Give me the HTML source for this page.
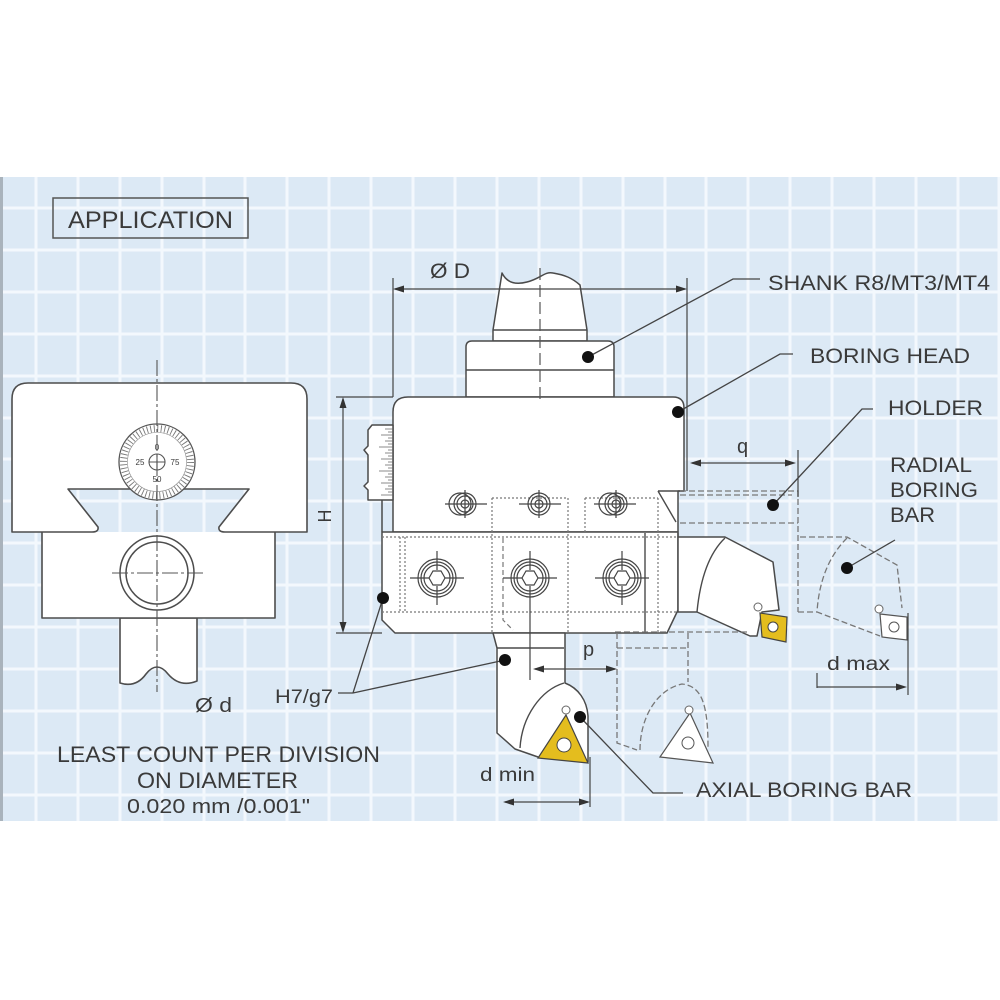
<!DOCTYPE html>
<html><head><meta charset="utf-8"><style>
html,body{margin:0;padding:0;background:#fff;}
svg{display:block;}
text{font-family:"Liberation Sans",Arial,sans-serif;fill:#3a3a3a;}
</style></head><body>
<svg width="1000" height="1000" viewBox="0 0 1000 1000" xmlns="http://www.w3.org/2000/svg">
<rect x="0" y="0" width="1000" height="1000" fill="#fff"/>
<rect x="0" y="177" width="1000" height="644" fill="#dce9f5"/>
<g stroke="#f3f8fd" stroke-width="3">
<line x1="36" y1="177" x2="36" y2="821"/><line x1="78" y1="177" x2="78" y2="821"/><line x1="120" y1="177" x2="120" y2="821"/><line x1="162" y1="177" x2="162" y2="821"/><line x1="204" y1="177" x2="204" y2="821"/><line x1="245" y1="177" x2="245" y2="821"/><line x1="287" y1="177" x2="287" y2="821"/><line x1="329" y1="177" x2="329" y2="821"/><line x1="371" y1="177" x2="371" y2="821"/><line x1="413" y1="177" x2="413" y2="821"/><line x1="455" y1="177" x2="455" y2="821"/><line x1="497" y1="177" x2="497" y2="821"/><line x1="539" y1="177" x2="539" y2="821"/><line x1="581" y1="177" x2="581" y2="821"/><line x1="623" y1="177" x2="623" y2="821"/><line x1="665" y1="177" x2="665" y2="821"/><line x1="706" y1="177" x2="706" y2="821"/><line x1="748" y1="177" x2="748" y2="821"/><line x1="790" y1="177" x2="790" y2="821"/><line x1="832" y1="177" x2="832" y2="821"/><line x1="874" y1="177" x2="874" y2="821"/><line x1="916" y1="177" x2="916" y2="821"/><line x1="958" y1="177" x2="958" y2="821"/><line x1="999" y1="177" x2="999" y2="821"/>
<line x1="0" y1="208" x2="1000" y2="208"/><line x1="0" y1="250" x2="1000" y2="250"/><line x1="0" y1="292" x2="1000" y2="292"/><line x1="0" y1="334" x2="1000" y2="334"/><line x1="0" y1="376" x2="1000" y2="376"/><line x1="0" y1="418" x2="1000" y2="418"/><line x1="0" y1="459" x2="1000" y2="459"/><line x1="0" y1="501" x2="1000" y2="501"/><line x1="0" y1="543" x2="1000" y2="543"/><line x1="0" y1="585" x2="1000" y2="585"/><line x1="0" y1="627" x2="1000" y2="627"/><line x1="0" y1="669" x2="1000" y2="669"/><line x1="0" y1="711" x2="1000" y2="711"/><line x1="0" y1="753" x2="1000" y2="753"/><line x1="0" y1="795" x2="1000" y2="795"/>
</g>
<rect x="0" y="177" width="3" height="644" fill="#a9b3bc"/>

<!-- APPLICATION box -->
<rect x="53" y="198" width="195" height="40" fill="none" stroke="#555" stroke-width="1.5"/>
<text x="68" y="228" font-size="24" textLength="165" lengthAdjust="spacingAndGlyphs">APPLICATION</text>

<!-- LEFT FIGURE -->
<g fill="#fff" stroke="#4d4d4d" stroke-width="1.6" stroke-linejoin="round">
 <path d="M120,618 V683 Q136,688 146,674 Q157,660 168,674 Q180,688 197,681 V618 Z"/>
 <path d="M42,532 V618 H275 V532 Z" stroke="none"/>
 <path d="M42,532 V618 H275 V532"/>
 <path d="M12,532 V399 Q12,383 28,383 H291 Q307,383 307,399 V532 H225 Q218,532 219,527 L249,489 H68 L98,527 Q99,532 92,532 Z"/>
</g>
<circle cx="157" cy="462" r="38" fill="#fff" stroke="#555" stroke-width="1.3"/>
<circle cx="157" cy="462" r="33.5" fill="none" stroke="#777" stroke-width="7" stroke-dasharray="0.9,2.61"/>
<circle cx="157" cy="462" r="29.5" fill="none" stroke="#888" stroke-width="0.6"/>
<circle cx="157" cy="462" r="8" fill="#fff" stroke="#555" stroke-width="1.1"/>
<path d="M149,462 H165 M157,454 V470" stroke="#555" stroke-width="1.1"/>
<g font-size="8" text-anchor="middle">
<text x="157" y="450">0</text><text x="140" y="465">25</text><text x="175" y="465">75</text><text x="157" y="482">50</text>
</g>
<circle cx="157" cy="573" r="37" fill="#fff" stroke="#4d4d4d" stroke-width="1.5"/>
<circle cx="157" cy="573" r="31" fill="none" stroke="#4d4d4d" stroke-width="1.5"/>
<g stroke="#555" stroke-width="1.1" fill="none" stroke-dasharray="16,3,3,3">
<line x1="157" y1="360" x2="157" y2="692"/>
<line x1="112" y1="573" x2="203" y2="573"/>
</g>
<text x="195" y="712" font-size="20" textLength="37" lengthAdjust="spacingAndGlyphs">Ø d</text>

<!-- MAIN FIGURE -->
<g fill="#fff" stroke="#4a4a4a" stroke-width="1.5" stroke-linejoin="round">
 <path d="M502,273 C507,283 516,285 527,282 C540,279 545,271 553,273 C565,275 572,278 580,285 L587,330 V341 H493 V330 Z"/>
 <line x1="493" y1="330" x2="587" y2="330"/>
 <path d="M466,397 V347 Q466,341 472,341 H608 Q614,341 614,347 V397 Z"/>
 <line x1="466" y1="370" x2="614" y2="370"/>
 <path d="M393,532 V412 Q393,397 408,397 H673 Q684,397 684,408 V491 H678 V532 Z"/>
 <path d="M393,425 H372 L368,430 V446 L364,450 L368,455 V482 L364,486 L368,490 V500 H393 Z"/>
 <path d="M382,500 V532"/>
 <path d="M382,532 H678 V610 L667,633 H395 L382,620 Z"/>
 <path d="M678,537 H725 L773,562 L779,610 L762,612 L757,636 L750,636 L697,612 H678 Z"/>
 <path d="M493,633 H565 V683 C578,688 587,700 588,716 V762 L538,757 L515,749 L497,733 V648 Z"/>
</g>
<g stroke="#4a4a4a" stroke-width="1.4" fill="none">
 <path d="M658,491 H684 M658,491 L676,522"/>
 <path d="M725,538 Q702,560 697,612"/>
 <path d="M564,683 C541,690 522,716 520,748"/>
 <path d="M497,648 H564"/>
 <path d="M645,533 V633"/>
 <path d="M678,533 V537"/>
</g>
<!-- vernier ticks -->
<g stroke="#666" stroke-width="0.8">
<path d="M393,429 h-8 M393,432 h-5 M393,435 h-12 M393,438 h-5 M393,441 h-8 M393,444 h-5 M393,447 h-14 M393,450 h-5 M393,453 h-8 M393,456 h-5 M393,459 h-12 M393,462 h-5 M393,465 h-8 M393,468 h-5 M393,471 h-14 M393,474 h-5 M393,477 h-8 M393,480 h-5 M393,483 h-12 M393,486 h-5 M393,489 h-8 M393,492 h-5 M393,495 h-12"/>
</g>
<!-- centerline -->
<line x1="540" y1="268" x2="540" y2="403" stroke="#555" stroke-width="1.2" stroke-dasharray="12,5"/>

<!-- inserts -->
<path d="M760,613 L787,617 L786,642 L762,637 Z" fill="#e4bd1e" stroke="#444" stroke-width="1.2"/>
<circle cx="773" cy="627" r="5" fill="#fff" stroke="#444" stroke-width="1"/>
<circle cx="758" cy="607" r="4" fill="#fff" stroke="#666" stroke-width="1"/>
<path d="M538,758 L588,763 L566,715 Z" fill="#e4bd1e" stroke="#444" stroke-width="1.2"/>
<circle cx="564" cy="745" r="7" fill="#fff" stroke="#444" stroke-width="1"/>
<circle cx="566" cy="710" r="4" fill="#fff" stroke="#666" stroke-width="1"/>

<!-- ghost dashed -->
<g stroke="#777" stroke-width="1.3" fill="none" stroke-dasharray="6,3">
 <path d="M680,491 H798 V612 M680,495 H792 M680,523 H798"/>
 <path d="M800,537 H847 L897,565 L902,608"/>
 <path d="M847,538 Q820,565 817,612 L880,636"/>
 <path d="M798,612 H817"/>
 <path d="M615,632 H750"/>
 <path d="M617,633 V743 L637,750"/>
 <path d="M617,648 H688 M688,633 V682"/>
 <path d="M640,750 C640,720 655,690 682,684 C700,686 708,700 708,747"/>
</g>
<path d="M880,614 L907,617 L907,640 L882,637 Z" fill="#fff" stroke="#555" stroke-width="1.2"/>
<circle cx="894" cy="627" r="5" fill="none" stroke="#555"/>
<circle cx="879" cy="609" r="4" fill="#fff" stroke="#666"/>
<path d="M660,757 L713,763 L690,713 Z" fill="#fff" stroke="#555" stroke-width="1.2"/>
<circle cx="688" cy="743" r="6" fill="none" stroke="#555"/>
<circle cx="689" cy="710" r="4" fill="#fff" stroke="#666"/>

<!-- dotted hidden lines -->
<g stroke="#777" stroke-width="1.2" fill="none" stroke-dasharray="2,2">
 <path d="M382,537 H678 M382,612 H678"/>
 <path d="M400,537 V612 M405,537 V612"/>
 <path d="M492,498 V633 M568,498 V633 M585,498 V533 M658,498 V633"/>
 <path d="M492,498 H568 M585,498 H658"/>
</g>
<path d="M503,538 V620 L513,630" stroke="#777" stroke-width="1.2" fill="none" stroke-dasharray="5,3"/>

<!-- screws upper -->
<g stroke="#444" stroke-width="1.2" fill="none">
 <path d="M445,504 H487 M465,490 V518"/>
 <circle cx="460" cy="504" r="11"/><circle cx="465" cy="504" r="11"/><circle cx="465" cy="504" r="8"/><circle cx="465" cy="504" r="4"/>
 <path d="M519,504 H561 M539,490 V518"/>
 <circle cx="539" cy="504" r="11"/><circle cx="539" cy="504" r="8"/><circle cx="539" cy="504" r="4"/>
 <path d="M594,504 H636 M616,490 V518"/>
 <circle cx="610" cy="504" r="11"/><circle cx="616" cy="504" r="11"/><circle cx="616" cy="504" r="8"/><circle cx="616" cy="504" r="4"/>
</g>
<!-- screws lower -->
<g stroke="#444" stroke-width="1.2" fill="none">
 <path d="M410,578 H429 M445,578 H464 M437,551 V570 M437,586 V605"/>
 <circle cx="437" cy="578" r="19"/><circle cx="437" cy="578" r="16"/><circle cx="437" cy="578" r="13"/>
 <polygon points="445,578 441,585 433,585 429,578 433,571 441,571"/>
 <path d="M503,578 H522 M538,578 H557 M530,551 V570 M530,586 V680"/>
 <circle cx="530" cy="578" r="19"/><circle cx="530" cy="578" r="16"/><circle cx="530" cy="578" r="13"/>
 <polygon points="538,578 534,585 526,585 522,578 526,571 534,571"/>
 <path d="M595,578 H614 M630,578 H649 M622,551 V570 M622,586 V605"/>
 <circle cx="622" cy="578" r="19"/><circle cx="622" cy="578" r="16"/><circle cx="622" cy="578" r="13"/>
 <polygon points="630,578 626,585 618,585 614,578 618,571 626,571"/>
</g>

<!-- dimensions -->
<g stroke="#444" stroke-width="1.2" fill="none">
 <path d="M343,399 V631 M336,397 H393 M336,633 H382"/>
 <path d="M395,289 H685 M393,278 V397 M687,278 V491"/>
 <path d="M692,463 H793 M798,450 V497"/>
 <path d="M535,669 H615"/>
 <path d="M505,802 H588 M590,757 V807"/>
 <path d="M817,673 V688 M817,687 H904 M908,613 V695"/>
</g>
<g fill="#333">
 <polygon points="343,397 339.5,408 346.5,408"/><polygon points="343,633 339.5,622 346.5,622"/>
 <polygon points="393,289 404,285.5 404,292.5"/><polygon points="687,289 676,285.5 676,292.5"/>
 <polygon points="690,463 701,459.5 701,466.5"/><polygon points="796,463 785,459.5 785,466.5"/>
 <polygon points="533,669 544,665.5 544,672.5"/><polygon points="617,669 606,665.5 606,672.5"/>
 <polygon points="503,802 514,798.5 514,805.5"/><polygon points="590,802 579,798.5 579,805.5"/>
 <polygon points="907,687 896,683.5 896,690.5"/>
</g>

<!-- leaders -->
<g stroke="#444" stroke-width="1.3" fill="none">
 <path d="M588,357 L733,279 H760"/>
 <path d="M678,412 L780,354 H793"/>
 <path d="M773,505 L862,409 H873"/>
 <path d="M847,568 L895,540"/>
 <path d="M383,598 L353,693 M505,660 L353,693 M338,693 H353"/>
 <path d="M580,717 L653,793 H683"/>
</g>
<g fill="#111">
 <circle cx="588" cy="357" r="6"/><circle cx="678" cy="412" r="6"/><circle cx="773" cy="505" r="6"/>
 <circle cx="847" cy="568" r="6"/><circle cx="383" cy="598" r="6"/><circle cx="505" cy="660" r="6"/>
 <circle cx="580" cy="717" r="6"/>
</g>

<!-- labels -->
<text x="430" y="278" font-size="21" textLength="40" lengthAdjust="spacingAndGlyphs">Ø D</text>
<text x="768" y="290" font-size="21" textLength="222" lengthAdjust="spacingAndGlyphs">SHANK R8/MT3/MT4</text>
<text x="810" y="363" font-size="21" textLength="160" lengthAdjust="spacingAndGlyphs">BORING HEAD</text>
<text x="888" y="415" font-size="21" textLength="95" lengthAdjust="spacingAndGlyphs">HOLDER</text>
<text x="737" y="453" font-size="20">q</text>
<text x="890" y="472" font-size="21" textLength="82" lengthAdjust="spacingAndGlyphs">RADIAL</text>
<text x="890" y="497" font-size="21" textLength="88" lengthAdjust="spacingAndGlyphs">BORING</text>
<text x="890" y="522" font-size="21" textLength="45" lengthAdjust="spacingAndGlyphs">BAR</text>
<text transform="translate(331,516) rotate(-90)" text-anchor="middle" font-size="18">H</text>
<text x="583" y="656" font-size="20">p</text>
<text x="827" y="670" font-size="19" textLength="63" lengthAdjust="spacingAndGlyphs">d max</text>
<text x="275" y="703" font-size="19" textLength="58" lengthAdjust="spacingAndGlyphs">H7/g7</text>
<text x="480" y="781" font-size="19" textLength="55" lengthAdjust="spacingAndGlyphs">d min</text>
<text x="696" y="797" font-size="21" textLength="216" lengthAdjust="spacingAndGlyphs">AXIAL BORING BAR</text>
<text x="57" y="762" font-size="22" textLength="323" lengthAdjust="spacingAndGlyphs">LEAST COUNT PER DIVISION</text>
<text x="137" y="788" font-size="22" textLength="161" lengthAdjust="spacingAndGlyphs">ON DIAMETER</text>
<text x="127" y="813" font-size="20" textLength="183" lengthAdjust="spacingAndGlyphs">0.020 mm /0.001"</text>
</svg>
</body></html>
